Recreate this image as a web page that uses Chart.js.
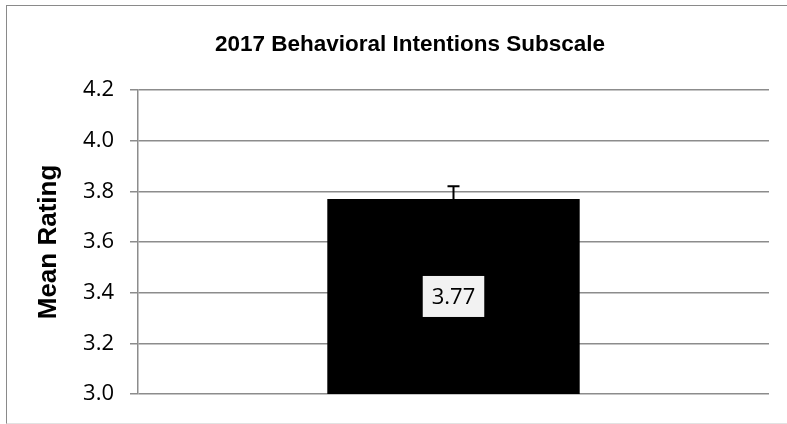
<!DOCTYPE html>
<html lang="en">
<head>
    <meta charset="UTF-8">
    <title>2017 Behavioral Intentions Subscale</title>
    <script src="https://cdn.jsdelivr.net/npm/chart.js@4/dist/chart.umd.min.js"></script>
    <style>
        body { margin: 0; background: #fff; }
        .wrap { position: relative; width: 787px; height: 424px; overflow: hidden; }
        .frame {
            position: absolute; left: 6px; top: 5px; width: 800px; height: 417px;
            border-left: 1.5px solid #8a8a8a; border-top: 1.5px solid #8a8a8a;
            border-bottom: 1px solid #e2e2e2;
        }
        canvas { position: absolute; left: 0; top: 0; }
    </style>
</head>
<body>
<div class="wrap">
    <div class="frame"></div>
    <canvas id="chart" width="787" height="424"></canvas>
</div>
<script>
    var chartTitle = '2017 Behavioral Intentions Subscale';
    var axisTitle = 'Mean Rating';
    var categories = ['2017'];
    var meanValues = [3.77];
    var errorValues = [0.05];
    var yMin = 3.0, yMax = 4.2, yStep = 0.2;

    // error bar + boxed value label + title, drawn over the bars
    var extras = {
        id: 'extras',
        afterDatasetsDraw: function (chart) {
            var ctx = chart.ctx;
            var y = chart.scales.y;
            var meta = chart.getDatasetMeta(0);
            ctx.save();
            meta.data.forEach(function (bar, i) {
                var p = bar.getProps(['x', 'y', 'base'], true);
                // bar base sits at 0, far below the visible axis minimum
                var base = Math.min(p.base, chart.chartArea.bottom);
                var top = y.getPixelForValue(meanValues[i] + errorValues[i]);
                ctx.strokeStyle = '#000';
                ctx.lineWidth = 2;
                ctx.beginPath();
                ctx.moveTo(p.x, p.y);
                ctx.lineTo(p.x, top);
                ctx.moveTo(p.x - 6, top);
                ctx.lineTo(p.x + 6, top);
                ctx.stroke();

                var txt = meanValues[i].toFixed(2);
                ctx.font = '22px "Open Sans"';
                var w = ctx.measureText(txt).width + 18;
                var h = 41;
                var cy = (p.y + base) / 2;
                ctx.fillStyle = '#f2f2f2';
                ctx.fillRect(p.x - w / 2, cy - h / 2, w, h);
                ctx.fillStyle = '#000';
                ctx.textAlign = 'center';
                ctx.textBaseline = 'middle';
                ctx.fillText(txt, p.x, cy + 1);
            });

            ctx.font = 'bold 22.5px "Liberation Sans"';
            ctx.fillStyle = '#000';
            ctx.textAlign = 'center';
            ctx.textBaseline = 'middle';
            ctx.fillText(chartTitle, 410, 45);
            ctx.restore();
        }
    };

    function draw() {
        new Chart(document.getElementById('chart'), {
            type: 'bar',
            data: {
                labels: categories,
                datasets: [{
                    data: meanValues,
                    backgroundColor: '#000',
                    borderWidth: 0,
                    barPercentage: 1,
                    categoryPercentage: 0.4
                }]
            },
            options: {
                responsive: false,
                animation: false,
                layout: { padding: { top: 90, right: 18, bottom: 30, left: 0 } },
                plugins: {
                    legend: { display: false },
                    tooltip: { enabled: false }
                },
                scales: {
                    x: { display: false },
                    y: {
                        min: yMin,
                        max: yMax,
                        afterFit: function (s) { s.width = 138; },
                        ticks: {
                            stepSize: yStep,
                            padding: 16,
                            color: '#000',
                            font: { family: '"Open Sans"', size: 22 },
                            callback: function (v) { return v.toFixed(1); }
                        },
                        grid: { color: '#8c8c8c', lineWidth: 1.5, tickLength: 8 },
                        border: { color: '#8c8c8c', width: 1.5 },
                        title: {
                            display: true,
                            text: axisTitle,
                            color: '#000',
                            font: { family: '"Liberation Sans"', size: 26, weight: 'bold' },
                            padding: { top: 33, bottom: 0 }
                        }
                    }
                }
            },
            plugins: [extras]
        });
    }

    Promise.all([
        document.fonts.load('22px "Open Sans"'),
        document.fonts.load('bold 22px "Liberation Sans"')
    ]).then(draw, draw);
</script>
</body>
</html>
